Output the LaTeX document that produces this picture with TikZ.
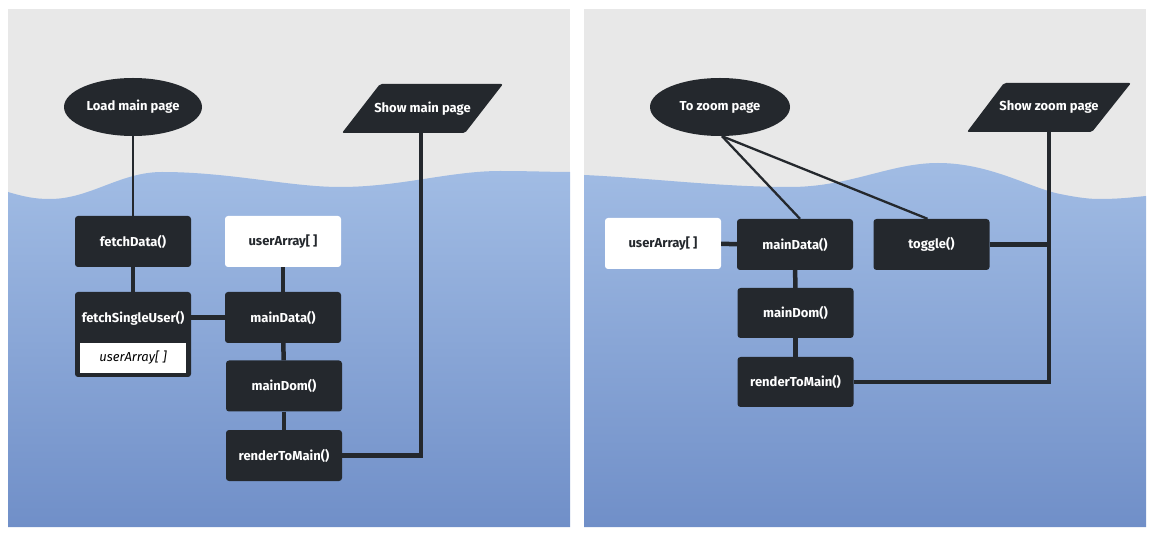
\documentclass[tikz,border=0pt]{standalone}
\usepackage{fontspec}
\setmainfont{Fira Sans}
\usetikzlibrary{shapes.geometric}
\definecolor{bggrey}{RGB}{232,232,232}
\definecolor{bluetop}{RGB}{161,188,228}
\definecolor{bluebot}{RGB}{112,143,200}
\definecolor{dark}{RGB}{36,40,45}
\begin{document}
\begin{tikzpicture}[x=1pt,y=-1pt,
  lbl/.style={font=\fontsize{13}{15}\selectfont\bfseries},
  box/.style={rectangle, rounded corners=3pt, fill=dark, text=white, minimum width=116pt, minimum height=51pt, inner sep=0pt, lbl},
  wbox/.style={box, fill=white, text=dark},
  startnode/.style={ellipse, fill=dark, text=white, minimum width=138pt, minimum height=58pt, inner sep=0pt, lbl},
  outshape/.style={fill=dark, rounded corners=2pt},
  outtext/.style={text=white, inner sep=0pt, lbl},
  thin/.style={draw=dark, line width=2.3pt},
  thick/.style={draw=dark, line width=4.5pt},
]
\useasboundingbox (0,0) rectangle (1160,537);
% panels
\fill[bggrey] (8,9) rectangle (570,527);
\fill[bggrey] (584,9) rectangle (1146,527);
\shade[top color=bluetop, bottom color=bluebot]
  (8,192) .. controls (25,197) and (35,199) .. (50,199)
  .. controls (90,199) and (120,172) .. (162,172)
  .. controls (230,172) and (290,187) .. (340,187)
  .. controls (400,187) and (450,171) .. (500,171)
  .. controls (530,171) and (550,172) .. (570,172)
  -- (570,527) -- (8,527) -- cycle;
\shade[top color=bluetop, bottom color=bluebot]
  (584,175) .. controls (650,178) and (720,187) .. (790,187)
  .. controls (850,187) and (890,163) .. (938,163)
  .. controls (990,163) and (1030,188) .. (1060,194)
  .. controls (1080,198) and (1090,199) .. (1100,199)
  .. controls (1120,199) and (1135,197) .. (1146,196)
  -- (1146,527) -- (584,527) -- cycle;

% left panel
\node[startnode] (load) at (133,107) {Load main page};
\path[outshape] (342,133) -- (380,84) -- (503,84) -- (465,133) -- cycle;
\node[outtext] (show) at (422.5,108.5) {Show main page};
\coordinate (showb) at (421,133);
\node[box] (fetch) at (133,241.5) {fetchData()};
\node[wbox] (ua) at (283,241.5) {userArray[ ]};
\node[box, minimum height=85pt] (fsu) at (133,334.5) {};
\node[lbl, text=white] (fsut) at (133,318) {fetchSingleUser()};
\node[rectangle, fill=white, minimum width=106pt, minimum height=30pt, inner sep=0pt, font=\fontsize{13}{15}\selectfont\itshape] (fsua) at (133,358) {userArray[ ]};
\node[box] (md) at (283,317.5) {mainData()};
\node[box] (mdom) at (284,386) {mainDom()};
\node[box] (rtm) at (284,455.5) {renderToMain()};

\draw[thin] (load) -- (fetch);
\draw[thick] (fetch) -- (fsu);
\draw[thick] (md.west) -- (md.west -| fsu.east);
\draw[thick] (ua) -- (md);
\draw[thick] (md) -- (mdom);
\draw[thick] (mdom) -- (rtm);
\draw[thick] (rtm.east) -| (showb);

% right panel
\node[startnode, minimum width=140pt] (zoom) at (720,107) {To zoom page};
\path[outshape] (967,132) -- (1004,83) -- (1131,83) -- (1092,132) -- cycle;
\node[outtext] (showz) at (1049,107.5) {Show zoom page};
\coordinate (showzb) at (1049,132);
\node[wbox] (ua2) at (663,243.5) {userArray[ ]};
\node[box] (md2) at (795,244.5) {mainData()};
\node[box] (tog) at (931.5,244.5) {toggle()};
\node[box, minimum height=50pt] (mdom2) at (795.5,313) {mainDom()};
\node[box, minimum height=50pt] (rtm2) at (795.5,382) {renderToMain()};

\draw[thin] ([xshift=2pt]zoom.south) -- ([xshift=5pt]md2.north);
\draw[thin] ([xshift=2pt]zoom.south) -- ([xshift=-4pt]tog.north);
\draw[thick] (ua2) -- (md2);
\draw[thick] (md2) -- (mdom2);
\draw[thick] (mdom2) -- (rtm2);
\draw[thick] (tog.east) -- (tog.east -| showzb);
\draw[thick] (rtm2.east) -| (showzb);
\end{tikzpicture}
\end{document}
